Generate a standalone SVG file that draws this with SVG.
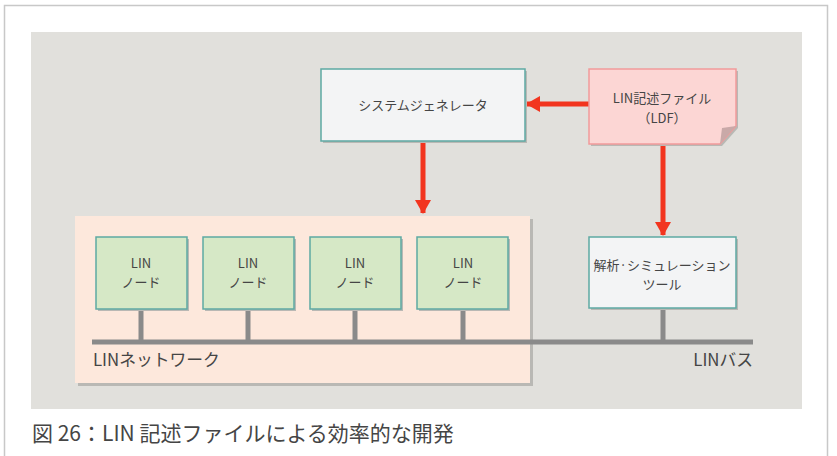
<svg xmlns="http://www.w3.org/2000/svg" width="837" height="456" viewBox="0 0 837 456">
<defs>
<style>
text{font-family:"Noto Sans CJK JP","Noto Sans",sans-serif;fill:#454545;}
.lbl{font-size:13px;text-anchor:middle;}
.big{font-size:16.8px;}
.cap{font-size:21px;}
.shadow{fill:#b9b8b4;}
.node{fill:#d6e8c6;stroke:#5ea9a3;stroke-width:1.5;}
.white{fill:#f3f4f5;stroke:#5ea9a3;stroke-width:1.5;}
.stub{stroke:#8a8a8a;stroke-width:5;}
.arrow{stroke:#f2351f;stroke-width:5;fill:none;}
</style>
<marker id="ah" viewBox="0 0 14 16" refX="13" refY="8" markerWidth="14" markerHeight="16" markerUnits="userSpaceOnUse" orient="auto">
<path d="M0,0 L14,8 L0,16 Z" fill="#f2351f"/>
</marker>
</defs>
<rect x="0" y="0" width="837" height="456" fill="#ffffff"/>
<path d="M4.5,460 L4.5,5.5 L827.5,5.5 L827.5,460" fill="none" stroke="#c8c8c8" stroke-width="1.5"/>
<rect x="31" y="32" width="771" height="377" fill="#e1e0dc"/>

<g id="network-area">
<rect x="78" y="219" width="455" height="167" class="shadow"/>
<rect x="75" y="216" width="455" height="167" fill="#fde8dc"/>
<text x="93" y="366" class="big">LINネットワーク</text>
</g>

<g id="connectors">
<line x1="92" y1="342" x2="753" y2="342" class="stub"/>
<line x1="141" y1="309" x2="141" y2="342" class="stub"/>
<line x1="248" y1="309" x2="248" y2="342" class="stub"/>
<line x1="355" y1="309" x2="355" y2="342" class="stub"/>
<line x1="463" y1="309" x2="463" y2="342" class="stub"/>
<line x1="663" y1="308" x2="663" y2="342" class="stub"/>
<line x1="589" y1="104" x2="527" y2="104" class="arrow" marker-end="url(#ah)"/>
<line x1="423" y1="142" x2="423" y2="213" class="arrow" marker-end="url(#ah)"/>
<line x1="663" y1="145" x2="663" y2="235" class="arrow" marker-end="url(#ah)"/>
</g>

<g id="lin-bus-label">
<text x="753" y="366" class="big" text-anchor="end">LINバス</text>
</g>

<g id="node1">
<rect x="98" y="239" width="91" height="72" class="shadow"/>
<rect x="96" y="237" width="91" height="72" class="node"/>
<text x="141" y="268" class="lbl">LIN</text>
<text x="141" y="287" class="lbl">ノード</text>
</g>
<g id="node2">
<rect x="205" y="239" width="91" height="72" class="shadow"/>
<rect x="203" y="237" width="91" height="72" class="node"/>
<text x="248" y="268" class="lbl">LIN</text>
<text x="248" y="287" class="lbl">ノード</text>
</g>
<g id="node3">
<rect x="312" y="239" width="91" height="72" class="shadow"/>
<rect x="310" y="237" width="91" height="72" class="node"/>
<text x="355" y="268" class="lbl">LIN</text>
<text x="355" y="287" class="lbl">ノード</text>
</g>
<g id="node4">
<rect x="419" y="239" width="91" height="72" class="shadow"/>
<rect x="417" y="237" width="91" height="72" class="node"/>
<text x="463" y="268" class="lbl">LIN</text>
<text x="463" y="287" class="lbl">ノード</text>
</g>

<g id="tool">
<rect x="591" y="239" width="147" height="71" class="shadow"/>
<rect x="589" y="237" width="147" height="71" class="white"/>
<text x="662" y="270" class="lbl">解析·シミュレーション</text>
<text x="662" y="289" class="lbl">ツール</text>
</g>

<g id="system-generator">
<rect x="323" y="71" width="204" height="72" class="shadow"/>
<rect x="321" y="69" width="204" height="72" class="white"/>
<text x="423" y="110" class="lbl">システムジェネレータ</text>
</g>

<g id="ldf">
<path d="M591,71 L738,71 L738,128 L722,146 L591,146 Z" class="shadow"/>
<path d="M589,69 L736,69 L736,126 L720,144 L589,144 Z" fill="#fcd6d4" stroke="#f19a9a" stroke-width="1.5"/>
<path d="M720,144 L722,128 L736,126 Z" fill="#c9a9a8"/>
<text x="662" y="103" class="lbl">LIN記述ファイル</text>
<text x="662" y="123" class="lbl">（LDF）</text>
</g>

<g id="caption">
<text x="32" y="441" class="cap">図 26：LIN 記述ファイルによる効率的な開発</text>
</g>
</svg>
